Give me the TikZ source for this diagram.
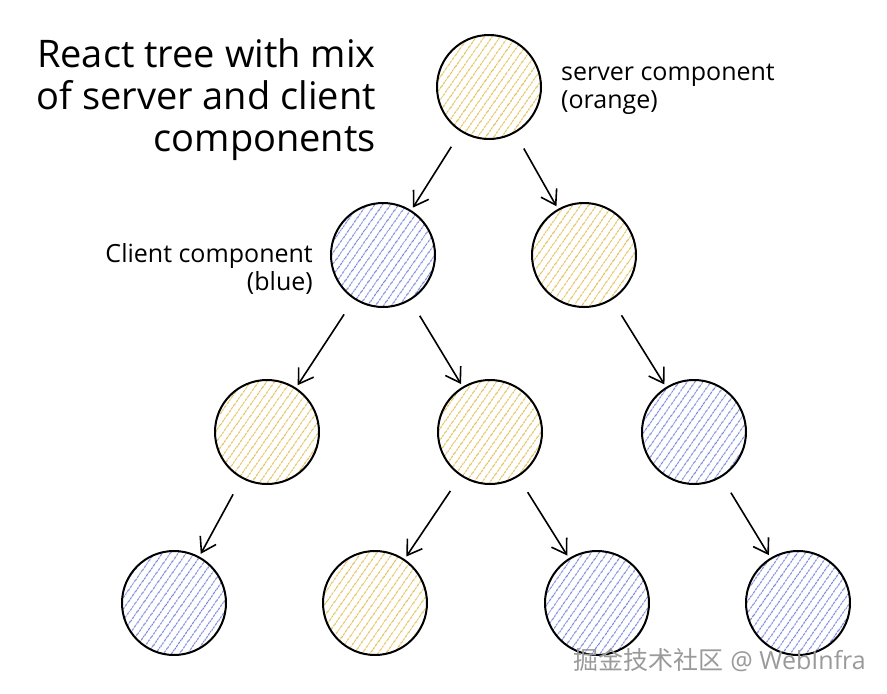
\documentclass[tikz,border=0pt]{standalone}
\usepackage{fontspec}
\setmainfont{Open Sans}
\newfontfamily\cjk{Noto Sans CJK SC}
\usetikzlibrary{arrows.meta,patterns.meta}

\definecolor{serverhatch}{HTML}{E2BF55}
\definecolor{clienthatch}{HTML}{7686D8}
\definecolor{markgray}{HTML}{9A9A9A}

\begin{document}
\begin{tikzpicture}[x=1pt,y=-1pt,>={Straight Barb[length=14pt,width=18pt]},
              comp/.style={circle,draw,line width=2pt,minimum size=104pt,inner sep=0pt},
              server node/.style={comp,pattern={Lines[angle=55,distance=6.5pt,line width=1.3pt]},pattern color=serverhatch},
              client node/.style={comp,pattern={Lines[angle=55,distance=6.5pt,line width=1.3pt]},pattern color=clienthatch},
              link/.style={->,line width=1.6pt,shorten <=18pt,shorten >=3pt}]

            \useasboundingbox (0,0) rectangle (887,694);

            % tree
            \node[server node] (root) at (489,87) {};
            \node[client node] (L) at (383,255) {};
            \node[server node] (R) at (584,255) {};
            \node[server node] (LL) at (267,432) {};
            \node[server node] (LR) at (490,432) {};
            \node[client node] (RR) at (694,432) {};
            \node[client node] (LLL) at (174,603) {};
            \node[server node] (LRL) at (375,603) {};
            \node[client node] (LRR) at (597,603) {};
            \node[client node] (RRR) at (798,603) {};

            \path[every edge/.style={draw,link}]
            (root) edge (L)
            (root) edge (R)
            (L) edge (LL)
            (L) edge (LR)
            (R) edge (RR)
            (LL) edge (LLL)
            (LR) edge (LRL)
            (LR) edge (LRR)
            (RR) edge (RRR);

            % labels
            \node[align=right,anchor=east,inner sep=0pt,font=\fontsize{38}{42}\selectfont] (title) at (376,100)
              {React tree with mix\\of server and client\\components};
            \node[align=left,anchor=west,inner sep=0pt,font=\fontsize{25}{28}\selectfont] (serverlabel) at (561,89)
              {server component\\(orange)};
            \node[align=right,anchor=east,inner sep=0pt,font=\fontsize{25}{28}\selectfont] (clientlabel) at (313,269)
              {Client component\\(blue)};
            \node[anchor=east,inner sep=0pt,text=markgray,font=\fontsize{25}{28}\selectfont] (mark) at (866,660)
              {{\cjk 掘金技术社区} @ WebInfra};

          \end{tikzpicture}
\end{document}
